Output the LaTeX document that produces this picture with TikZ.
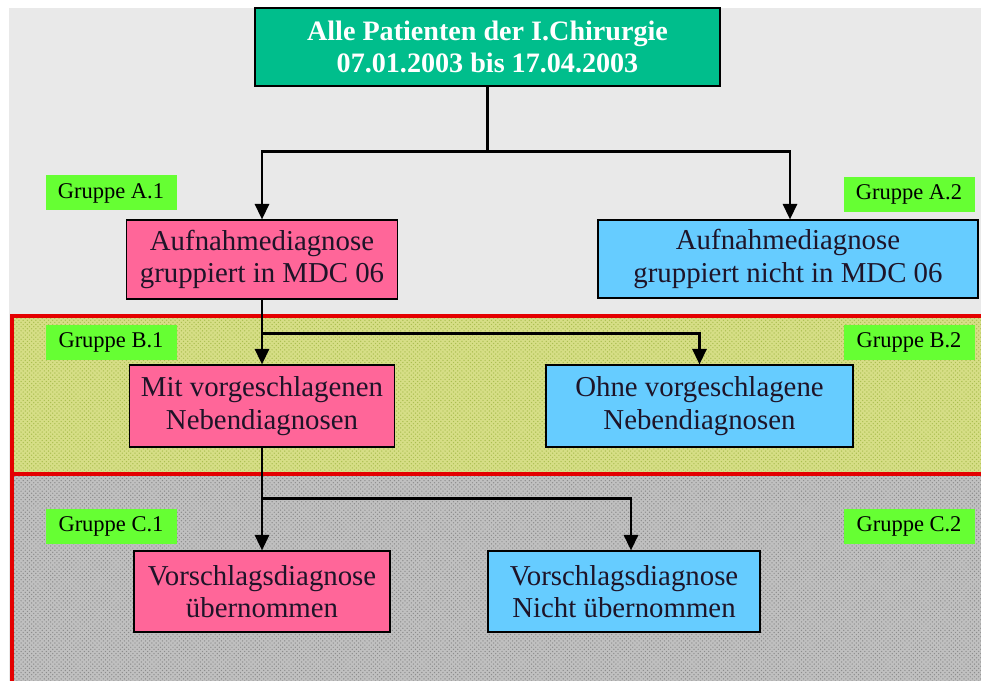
\documentclass[tikz,border=0pt]{standalone}
\usepackage{fontspec}
\setmainfont{Liberation Serif}
\usetikzlibrary{arrows.meta, patterns, calc}
\definecolor{topgreen}{RGB}{0,190,140}
\definecolor{boxpink}{RGB}{255,102,153}
\definecolor{boxblue}{RGB}{102,204,255}
\definecolor{labelgreen}{RGB}{102,255,51}
\definecolor{framered}{RGB}{228,0,0}
\definecolor{pagegray}{RGB}{233,233,233}
\definecolor{bandb}{RGB}{214,222,134}
\definecolor{bandbdots}{RGB}{170,190,80}
\definecolor{bandc}{RGB}{192,192,192}
\definecolor{bandcdots}{RGB}{140,140,140}
\definecolor{textdark}{RGB}{30,20,40}
\def\px{0.025cm}
\tikzset{>={Triangle[length=11pt,width=10pt]}}
\tikzset{
  box/.style={draw=black, line width=0.8pt, align=center, inner sep=0pt,
    text=textdark, font=\fontsize{20.5}{23}\selectfont},
  topbox/.style={box, fill=topgreen, text=white, font=\fontsize{20}{23}\selectfont\bfseries,
    minimum width=465*\px, minimum height=78*\px},
  grouplabel/.style={fill=labelgreen, inner sep=0pt, text=black,
    font=\fontsize{16}{18}\selectfont, minimum width=131*\px, minimum height=35*\px},
  link/.style={->, line width=1.8pt}
}

\begin{document}
\begin{tikzpicture}[x=\px, y=-\px]

\useasboundingbox (0,0) rectangle (981,681);
\clip (0,0) rectangle (981,681);

% Background and bands
\fill[pagegray] (9,8) rectangle (981,681);
\fill[bandb] (12,316) rectangle (990,474);
\fill[pattern=crosshatch dots, pattern color=bandbdots] (12,316) rectangle (990,474);
\fill[bandc] (12,474) rectangle (990,690);
\fill[pattern=crosshatch dots, pattern color=bandcdots] (12,474) rectangle (990,690);
\draw[framered, line width=2.6pt] (12,690) -- (12,316) -- (990,316);
\draw[framered, line width=2.6pt] (12,474) -- (990,474);

% Boxes
\node[topbox] (all) at (487.5,47) {Alle Patienten der I.Chirurgie\\07.01.2003 bis 17.04.2003};

\node[box, fill=boxpink, minimum width=271*\px, minimum height=79*\px] (a_in) at (262,259.5)
  {Aufnahmediagnose\\gruppiert in MDC 06};
\node[box, fill=boxblue, minimum width=380*\px, minimum height=78*\px] (a_out) at (788,259)
  {Aufnahmediagnose\\gruppiert nicht in MDC 06};

\node[box, fill=boxpink, minimum width=265*\px, minimum height=82*\px] (b_with) at (262,406)
  {Mit vorgeschlagenen\\Nebendiagnosen};
\node[box, fill=boxblue, minimum width=307*\px, minimum height=82*\px] (b_without) at (699.5,406)
  {Ohne vorgeschlagene\\Nebendiagnosen};

\node[box, fill=boxpink, minimum width=256*\px, minimum height=81*\px] (c_taken) at (262,591.5)
  {Vorschlagsdiagnose\\übernommen};
\node[box, fill=boxblue, minimum width=272*\px, minimum height=81*\px] (c_nottaken) at (624,591.5)
  {Vorschlagsdiagnose\\Nicht übernommen};

% Group labels
\node[grouplabel] (ga1) at (111,193) {Gruppe A.1};
\node[grouplabel] (ga2) at (909,194.5) {Gruppe A.2};
\node[grouplabel] (gb1) at (111,342.5) {Gruppe B.1};
\node[grouplabel] (gb2) at (909,342.5) {Gruppe B.2};
\node[grouplabel] (gc1) at (111,526.5) {Gruppe C.1};
\node[grouplabel] (gc2) at (909,526.5) {Gruppe C.2};

% Connectors
\coordinate (split_a) at ($(all.south)+(0,65)$);
\coordinate (split_b) at ($(a_in.south)+(0,34)$);
\coordinate (split_c) at ($(b_with.south)+(0,51)$);

\draw[link] (all.south) -- (split_a) -| (a_in.north);
\draw[link] (split_a) -| ([xshift=2*\px]a_out.north);

\draw[link] (a_in.south) -- (b_with.north);
\draw[link] (split_b) -| (b_without.north);

\draw[link] (b_with.south) -- (c_taken.north);
\draw[link] (split_c) -| ([xshift=7*\px]c_nottaken.north);

\end{tikzpicture}
\end{document}
